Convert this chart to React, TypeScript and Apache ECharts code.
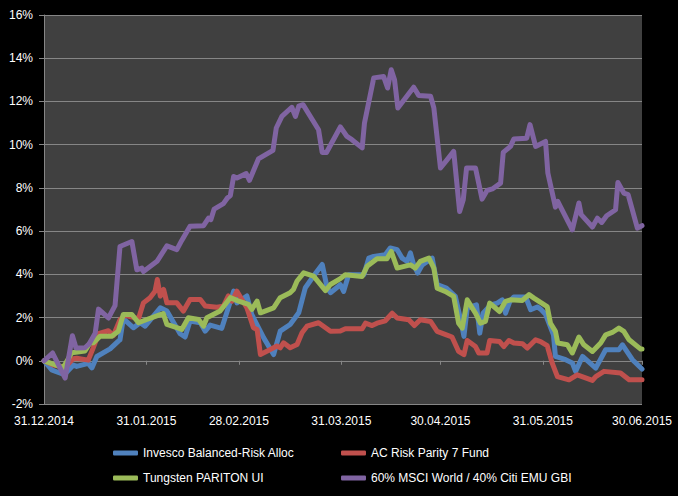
import React, { useEffect, useRef } from "react";
import * as echarts from "echarts";

// x = calendar days after 31.12.2014, y = performance in %
const tickDays = [0, 31, 59, 90, 120, 151, 181];
const tickLabels = ["31.12.2014", "31.01.2015", "28.02.2015", "31.03.2015", "30.04.2015", "31.05.2015", "30.06.2015"];
const yTicks = { min: -2, max: 16, step: 2 };

const seriesNames = [
  "Invesco Balanced-Risk Alloc",
  "AC Risk Parity 7 Fund",
  "Tungsten PARITON UI",
  "60% MSCI World / 40% Citi EMU GBI",
];

const invesco: [number, number][] = [
  [0, 0], [1.8, -0.32], [2.3, -0.42], [5.4, -0.6], [6.4, -0.6], [8.9, -0.2], [9.9, -0.26], [13.4, -0.12],
  [14.5, -0.33], [16.0, 0.2], [20.0, 0.55], [22.5, 0.91], [23.0, 0.97], [24.0, 1.95], [26.6, 1.59],
  [27.1, 1.53], [29.1, 1.76], [30.6, 1.6], [35.2, 2.45], [37.2, 2.3], [41.2, 1.25], [42.7, 1.1],
  [44.2, 1.84], [47.3, 1.76], [48.8, 1.37], [50.3, 1.65], [53.8, 1.5], [57.4, 3.22], [58.4, 2.68],
  [61.4, 3.0], [62.9, 2.14], [66.5, 1.06], [69.5, 0.29], [71.5, 1.37], [74.5, 1.68], [77.1, 2.22],
  [79.1, 3.38], [81.6, 3.92], [84.2, 4.46], [85.7, 3.38], [86.7, 3.15], [89.7, 3.52], [90.7, 3.21],
  [92.2, 3.98], [96.8, 3.98], [98.3, 4.75], [99.8, 4.83], [103.3, 4.91], [104.8, 5.22], [106.9, 5.14],
  [108.4, 4.75], [109.9, 4.6], [110.9, 4.99], [111.9, 4.44], [113.1, 4.06], [114.5, 4.44], [117.5, 4.75],
  [119.0, 3.52], [121.8, 3.36], [124.5, 2.98], [126.1, 1.9], [127.1, 1.13], [128.1, 2.44], [130.9, 2.59],
  [131.9, 1.28], [132.9, 2.2], [135.2, 2.59], [137.2, 2.67], [138.7, 2.82], [139.7, 2.2], [141.0, 2.75],
  [142.2, 2.95], [145.8, 2.95], [147.3, 2.36], [149.3, 2.49], [150.3, 2.39], [151.8, 2.15], [154.2, 1.2],
  [154.8, 0.2], [157.9, 0.05], [159.9, -0.1], [160.9, -0.49], [163.0, 0.2], [167.0, -0.34], [170.0, 0.51],
  [174.0, 0.51], [175.1, 0.74], [178.1, 0.05], [181, -0.38],
];

const acRisk: [number, number][] = [
  [0, 0], [2.8, -0.2], [6.4, -0.3], [8.9, 0.1], [9.9, 0.12], [13.4, 0.03], [14.9, 0.6], [16.5, 1.25],
  [19.5, 1.39], [21.0, 1.17], [23.0, 1.9], [24.5, 2.1], [28.6, 1.95], [30.1, 2.68], [32.1, 2.92],
  [33.6, 3.22], [34.3, 3.76], [35.2, 2.99], [36.2, 3.3], [37.2, 2.68], [40.2, 2.68], [42.2, 2.3],
  [44.2, 2.84], [47.3, 2.84], [48.8, 2.53], [52.3, 2.48], [54.3, 2.53], [55.8, 3.0], [56.9, 2.76],
  [58.4, 3.22], [61.4, 2.45], [63.4, 1.53], [64.5, 1.45], [65.5, 0.29], [68.5, 0.52], [70.5, 0.68],
  [71.5, 0.6], [72.5, 0.83], [74.5, 0.6], [76.6, 0.75], [78.1, 1.3], [79.6, 1.6], [83.1, 1.76],
  [86.7, 1.37], [89.7, 1.38], [91.2, 1.48], [96.3, 1.48], [97.3, 1.74], [99.3, 1.63], [100.8, 1.74],
  [103.3, 1.85], [105.4, 2.2], [106.9, 1.98], [110.4, 1.9], [112.1, 1.63], [113.9, 1.9], [117.0, 1.82],
  [119.0, 1.36], [121.8, 1.2], [123.5, 1.1], [125.5, 0.43], [127.1, 0.28], [128.1, 0.94], [130.6, 0.66],
  [131.6, 0.36], [134.1, 0.36], [134.9, 0.94], [137.9, 0.89], [139.2, 0.66], [140.7, 0.94], [142.2, 0.82],
  [144.8, 0.79], [146.3, 0.59], [148.8, 0.97], [150.3, 0.89], [152.3, 0.7], [153.8, -0.1], [155.4, -0.73],
  [158.9, -0.88], [161.4, -0.65], [166.0, -0.91], [167.0, -0.73], [169.5, -0.49], [174.5, -0.57],
  [177.1, -0.88], [181, -0.88],
];

const tungsten: [number, number][] = [
  [0, 0], [5.8, -0.32], [8.4, 0.37], [12.4, 0.45], [13.9, 0.82], [14.9, 0.83], [17.0, 1.14], [20.5, 1.14],
  [22.5, 1.37], [24.0, 2.14], [26.6, 2.14], [28.6, 1.76], [31.1, 1.91], [35.2, 2.14], [36.1, 2.18],
  [37.2, 1.68], [40.2, 1.53], [41.7, 1.45], [43.7, 1.99], [46.8, 1.91], [48.3, 1.6], [49.3, 1.99],
  [53.3, 2.3], [56.4, 2.92], [58.9, 2.76], [61.9, 2.61], [62.9, 2.38], [64.5, 2.76], [65.5, 2.22],
  [69.5, 2.45], [71.5, 2.92], [74.5, 3.15], [75.5, 3.3], [76.6, 3.69], [78.6, 4.07], [81.6, 3.92],
  [85.2, 3.25], [86.7, 3.53], [89.7, 3.8], [91.2, 3.98], [96.3, 3.9], [97.8, 4.37], [100.8, 4.72],
  [103.8, 4.72], [105.1, 5.06], [106.9, 4.29], [110.9, 4.44], [112.4, 4.29], [113.9, 4.6], [116.5, 4.75],
  [118.0, 4.29], [119.0, 3.36], [121.8, 3.18], [124.0, 2.98], [125.5, 1.74], [126.6, 1.51], [128.1, 2.82],
  [130.6, 2.2], [132.1, 1.74], [133.6, 1.82], [134.9, 2.67], [137.9, 2.28], [139.7, 2.75], [141.2, 2.82],
  [144.8, 2.79], [146.8, 3.06], [148.3, 2.9], [150.3, 2.7], [152.3, 2.51], [153.3, 1.74], [154.8, 1.36],
  [155.5, 0.82], [158.4, 0.74], [159.9, 0.36], [161.9, 1.1], [163.4, 0.74], [166.0, 0.43], [168.5, 0.82],
  [170.0, 1.2], [172.0, 1.31], [174.0, 1.51], [175.5, 1.36], [177.1, 0.97], [180.6, 0.54], [181, 0.54],
];

const msciMix: [number, number][] = [
  [0, 0], [2.6, 0.36], [6.4, -0.8], [8.6, 1.16], [9.7, 0.59], [12.4, 0.6], [13.7, 0.79], [15.5, 1.28],
  [16.5, 2.39], [19.5, 1.98], [21.5, 2.55], [23.0, 5.29], [26.6, 5.52], [28.1, 4.21], [29.6, 4.29],
  [30.1, 4.13], [34.2, 4.6], [37.2, 5.32], [40.2, 5.14], [41.7, 5.57], [44.2, 6.22], [48.3, 6.25],
  [49.8, 6.6], [50.5, 6.53], [51.5, 7.02], [54.3, 7.27], [55.5, 7.53], [56.4, 7.64], [57.4, 8.53],
  [58.4, 8.46], [61.2, 8.66], [62.2, 8.35], [64.9, 9.34], [69.3, 9.74], [70.3, 10.77], [72.0, 11.31],
  [75.0, 11.73], [76.1, 11.31], [77.1, 11.78], [78.4, 11.85], [83.1, 10.69], [84.2, 9.64], [85.5, 9.64],
  [89.7, 10.82], [91.7, 10.38], [93.2, 10.23], [96.3, 9.85], [97.0, 11.0], [99.8, 13.09], [102.8, 13.15],
  [104.0, 12.62], [105.1, 13.47], [106.1, 13.0], [107.1, 11.7], [111.9, 12.66], [113.4, 12.28],
  [117.0, 12.24], [118.0, 11.7], [120.0, 8.92], [121.8, 9.26], [124.0, 9.69], [125.8, 6.91], [126.9, 7.45],
  [127.9, 8.92], [130.6, 8.92], [132.6, 7.48], [134.1, 7.88], [135.7, 7.95], [138.2, 8.22], [139.0, 9.64],
  [141.2, 9.92], [142.2, 10.26], [146.1, 10.3], [147.1, 10.93], [148.8, 9.92], [151.8, 10.15],
  [152.5, 8.69], [154.8, 7.11], [155.5, 7.38], [159.9, 6.06], [161.9, 7.3], [162.6, 6.76], [166.0, 6.19],
  [167.5, 6.6], [168.8, 6.4], [170.3, 6.71], [173.0, 6.99], [173.7, 8.25], [175.5, 7.76], [176.8, 7.69],
  [179.6, 6.14], [181, 6.25],
];

const seriesData = [invesco, acRisk, tungsten, msciMix];
const colors = ["#4F81BD", "#C0504D", "#9BBB59", "#8064A2"];

export default function App() {
  const ref = useRef<HTMLDivElement>(null);
  useEffect(() => {
    if (!ref.current) return;
    const chart = echarts.init(ref.current, null, { renderer: "svg" });
    const font = "'Liberation Sans', Arial, sans-serif";
    const legendText = { color: "#FFFFFF", fontSize: 12, fontFamily: font };
    const gridTop = 15;
    const gridBottom = 92;
    const plotH = 496 - gridTop - gridBottom;
    // distance from the bottom of the plot up to the 0% line
    const zeroOffset = (plotH * (0 - yTicks.min)) / (yTicks.max - yTicks.min);
    const legendCommon = {
      orient: "vertical",
      top: 447,
      padding: 0,
      itemGap: 13,
      itemWidth: 25,
      itemHeight: 5,
      icon: "roundRect",
      textStyle: legendText,
    };
    chart.setOption({
      animation: false,
      backgroundColor: "#000000",
      color: colors,
      grid: {
        left: 44,
        right: 36,
        top: gridTop,
        bottom: gridBottom,
        show: true,
        backgroundColor: "#404040",
        borderWidth: 0,
        containLabel: false,
      },
      xAxis: [
        {
          type: "value",
          position: "bottom",
          min: tickDays[0],
          max: tickDays[tickDays.length - 1],
          splitLine: { show: false },
          axisLine: { show: false, onZero: false },
          axisTick: { show: false },
          axisLabel: {
            customValues: tickDays,
            color: "#FFFFFF",
            fontSize: 12,
            fontFamily: font,
            margin: 11,
            formatter: (v: number) => {
              const i = tickDays.indexOf(Math.round(v));
              return i >= 0 ? tickLabels[i] : "";
            },
          },
        },
        {
          type: "value",
          position: "bottom",
          offset: -zeroOffset,
          min: tickDays[0],
          max: tickDays[tickDays.length - 1],
          splitLine: { show: false },
          axisLine: { show: true, onZero: false, lineStyle: { color: "#868686", width: 1 } },
          axisTick: {
            show: true,
            customValues: tickDays,
            length: 4,
            lineStyle: { color: "#868686" },
          },
          axisLabel: { show: false },
        },
      ],
      yAxis: {
        type: "value",
        min: yTicks.min,
        max: yTicks.max,
        interval: yTicks.step,
        axisLine: { show: true, onZero: false, lineStyle: { color: "#868686", width: 1 } },
        axisTick: { show: true, length: 5, lineStyle: { color: "#868686" } },
        splitLine: { show: true, lineStyle: { color: "#868686", width: 1 } },
        axisLabel: {
          color: "#FFFFFF",
          fontSize: 12,
          fontFamily: font,
          margin: 11,
          formatter: (v: number) => `${v}%`,
        },
      },
      legend: [
        { ...legendCommon, data: [seriesNames[0], seriesNames[2]], left: 113 },
        { ...legendCommon, data: [seriesNames[1], seriesNames[3]], left: 341 },
      ],
      series: seriesNames.map((name, i) => ({
        name,
        type: "line",
        xAxisIndex: 0,
        data: seriesData[i],
        symbol: "none",
        lineStyle: { width: 5, color: colors[i], cap: "round", join: "round" },
        itemStyle: { color: colors[i] },
      })),
    });
    return () => chart.dispose();
  }, []);
  return (
    <div
      ref={ref}
      style={{ position: "fixed", left: 0, top: 0, width: 678, height: 496 }}
    />
  );
}
